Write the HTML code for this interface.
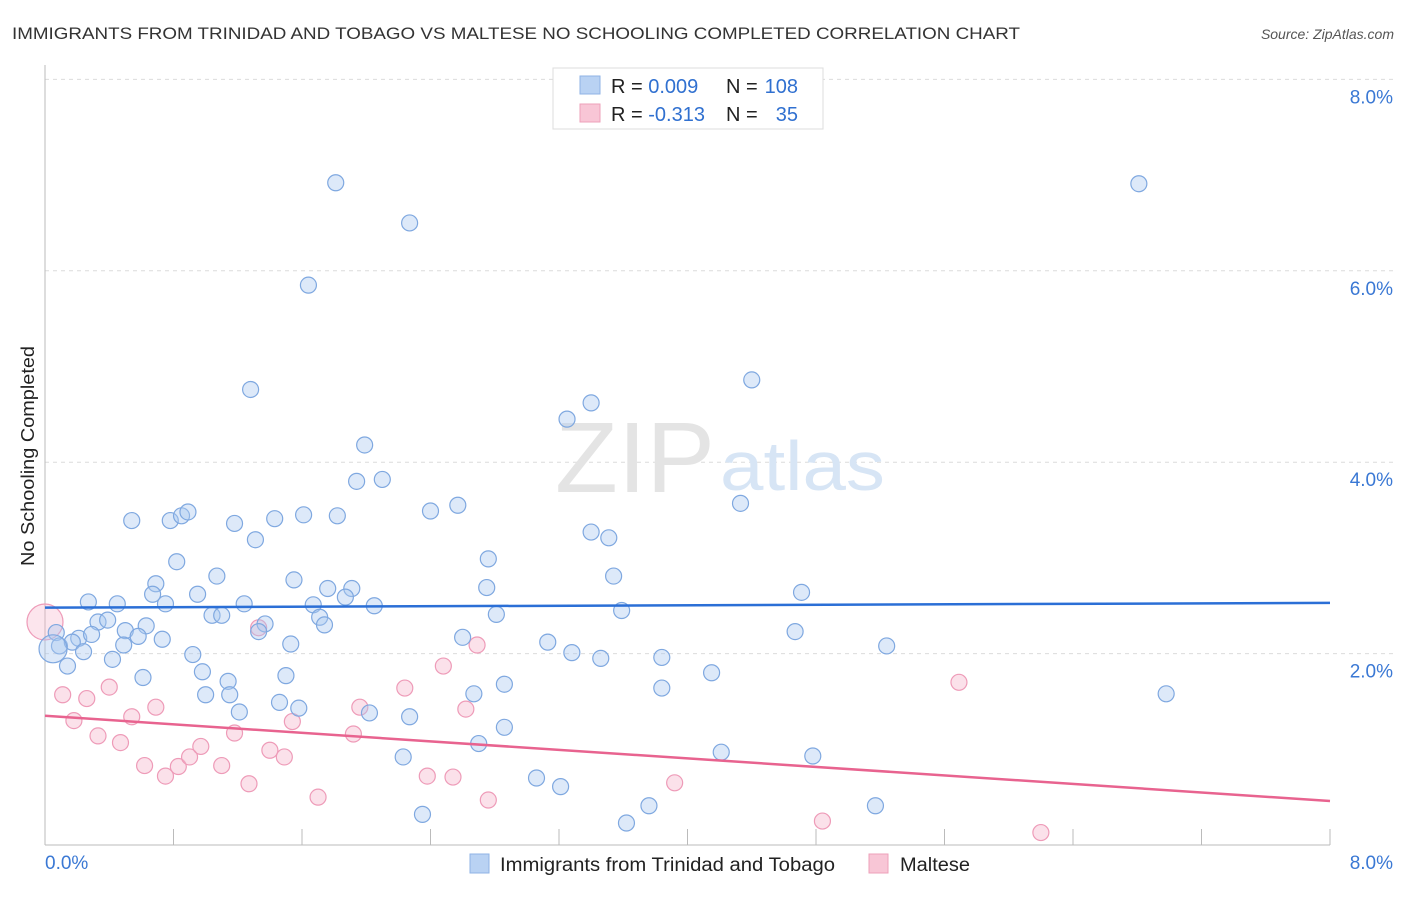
<!DOCTYPE html>
<html><head><meta charset="utf-8"><style>
body{margin:0;background:#fff;font-family:"Liberation Sans",sans-serif}
svg text{font-family:"Liberation Sans",sans-serif}
</style></head><body>
<svg id="c" width="1406" height="892">
<text x="12" y="39" font-size="17" fill="#333" textLength="1008" lengthAdjust="spacingAndGlyphs">IMMIGRANTS FROM TRINIDAD AND TOBAGO VS MALTESE NO SCHOOLING COMPLETED CORRELATION CHART</text>
<text x="1394" y="39" font-size="14" font-style="italic" fill="#555" text-anchor="end">Source: ZipAtlas.com</text>
<text x="34" y="456" font-size="18" fill="#222" text-anchor="middle" textLength="220" lengthAdjust="spacingAndGlyphs" transform="rotate(-90 34 456)">No Schooling Completed</text>
<g id="grid"></g>
<text x="715" y="492" font-size="100" font-family="Liberation Serif" fill="#e4e4e4" text-anchor="end" textLength="160" lengthAdjust="spacingAndGlyphs">ZIP</text>
<text x="720" y="490" font-size="70" fill="#d7e5f5" textLength="165" lengthAdjust="spacingAndGlyphs">atlas</text>
<g id="marks"></g>
<g>
<rect x="553" y="68" width="270" height="61" fill="#fff" stroke="#ddd"/>
<rect x="580" y="76" width="20" height="18" fill="#b9d2f3" stroke="#8fb3e6"/>
<rect x="580" y="104" width="20" height="18" fill="#f8c6d6" stroke="#eea0ba"/>
<text x="611" y="93" font-size="20" fill="#222">R = <tspan fill="#3070d0">0.009</tspan></text>
<text x="726" y="93" font-size="20" fill="#222">N = </text>
<text x="798" y="93" font-size="20" fill="#3070d0" text-anchor="end">108</text>
<text x="611" y="121" font-size="20" fill="#222">R = <tspan fill="#3070d0">-0.313</tspan></text>
<text x="726" y="121" font-size="20" fill="#222">N = </text>
<text x="798" y="121" font-size="20" fill="#3070d0" text-anchor="end">35</text>
</g>
<g>
<rect x="470" y="854" width="19" height="19" fill="#b9d2f3" stroke="#8fb3e6"/>
<text x="500" y="871" font-size="19" fill="#222" textLength="335" lengthAdjust="spacingAndGlyphs">Immigrants from Trinidad and Tobago</text>
<rect x="869" y="854" width="19" height="19" fill="#f8c6d6" stroke="#eea0ba"/>
<text x="900" y="871" font-size="19" fill="#222" textLength="70" lengthAdjust="spacingAndGlyphs">Maltese</text>
</g>
</svg>
<script>
const blueX=[1.81,6.81,2.27,1.64,1.28,4.40,3.40,3.25,1.99,1.94,2.10,4.33,2.40,2.57,0.54,0.78,0.85,0.89,1.18,1.43,1.61,1.82,1.31,3.40,3.51,0.82,2.76,1.07,1.55,3.54,0.69,0.67,0.95,1.76,1.91,1.87,2.75,4.71,0.27,0.45,0.75,1.24,1.67,2.05,0.33,0.39,0.63,1.04,1.10,1.71,1.74,1.37,2.81,3.59,0.50,0.58,0.73,1.33,4.67,0.07,0.21,0.29,0.09,0.17,0.49,1.53,2.60,3.13,3.28,3.46,3.84,5.24,0.24,0.42,0.92,0.98,1.50,4.15,0.14,0.61,1.14,1.00,1.15,2.86,2.67,3.84,6.98,1.46,1.58,1.21,2.02,2.27,2.86,2.70,2.23,4.21,4.78,3.06,3.21,3.76,5.17,2.35,3.62];
const blueY=[6.92,6.91,6.50,5.85,4.76,4.86,4.62,4.45,4.18,3.80,3.82,3.57,3.49,3.55,3.39,3.39,3.44,3.48,3.36,3.41,3.45,3.44,3.19,3.27,3.21,2.96,2.99,2.81,2.77,2.81,2.73,2.62,2.62,2.68,2.68,2.59,2.69,2.64,2.54,2.52,2.52,2.52,2.51,2.50,2.33,2.35,2.29,2.40,2.40,2.38,2.30,2.31,2.41,2.45,2.24,2.18,2.15,2.23,2.23,2.22,2.16,2.20,2.08,2.12,2.09,2.10,2.17,2.12,2.01,1.95,1.96,2.08,2.02,1.94,1.99,1.81,1.77,1.80,1.87,1.75,1.71,1.57,1.57,1.68,1.58,1.64,1.58,1.49,1.43,1.39,1.38,1.34,1.23,1.06,0.92,0.97,0.93,0.70,0.61,0.41,0.41,0.32,0.23];
const pinkX=[0.11,0.26,0.40,0.18,0.54,0.69,0.33,0.47,0.62,0.75,0.83,0.90,0.97,1.10,1.18,1.27,1.33,1.40,1.54,1.49,1.70,1.92,1.96,2.24,2.48,2.69,2.62,2.38,2.54,2.76,3.92,4.84,5.69,6.20];
const pinkY=[1.57,1.53,1.65,1.30,1.34,1.44,1.14,1.07,0.83,0.72,0.82,0.92,1.03,0.83,1.17,0.64,2.27,0.99,1.29,0.92,0.50,1.16,1.44,1.64,1.87,2.09,1.42,0.72,0.71,0.47,0.65,0.25,1.70,0.13];
const bigBlue=[0.05,2.05], bigPink=[0.00,2.33];
const yTicks=[2,4,6,8], yTickLabels=["2.0%","4.0%","6.0%","8.0%"];
const blueTrend=[2.48,2.53], pinkTrend=[1.35,0.46];
const X0=45,X1=1330,Y0=845,PY=95.7;
const sx=v=>X0+(v/8)*(X1-X0), sy=v=>Y0-v*PY;
const NS="http://www.w3.org/2000/svg";
function mk(t,a,p){const e=document.createElementNS(NS,t);for(const k in a)e.setAttribute(k,a[k]);p.appendChild(e);return e;}
const g=document.getElementById('grid'), m=document.getElementById('marks');
yTicks.forEach((v,i)=>{
 const l=mk('line',{x1:X0,x2:1394,y1:sy(v),y2:sy(v),stroke:'#dcdcdc','stroke-dasharray':'4,4'},g);
 
 
 const t=mk('text',{x:1393,y:sy(v)+24,'font-size':19,fill:'#3a78d4','text-anchor':'end'},g);
 t.textContent=yTickLabels[i];
 
 
});
const ax=mk('line',{x1:X0,x2:X0,y1:65,y2:Y0,stroke:'#bbb'},g);


const bx=mk('line',{x1:X0,x2:X1,y1:Y0,y2:Y0,stroke:'#bbb'},g);


for(let i=0;i<=10;i++){const x=sx(i*0.8);const tk=mk('line',{x1:x,x2:x,y1:Y0,y2:Y0-(i==0?0:16),stroke:'#bbb'},g);
 
 }
const xl0=mk('text',{x:45,y:869,'font-size':19,fill:'#3a78d4'},g);xl0.textContent='0.0%';


const xl1=mk('text',{x:1393,y:869,'font-size':19,fill:'#3a78d4','text-anchor':'end'},g);xl1.textContent='8.0%';


function dot(x,y,r,fill,stroke,name){const c=mk('circle',{cx:sx(x),cy:sy(y),r:r,fill:fill,stroke:stroke,'stroke-width':1.2},m);
 
 }
pinkX.forEach((x,i)=>dot(x,pinkY[i],8,'rgba(246,180,203,0.4)','#ee9bb8','maltese-point'));
dot(bigPink[0],bigPink[1],18,'rgba(246,180,203,0.35)','#ee9bb8','maltese-point');
blueX.forEach((x,i)=>dot(x,blueY[i],8,'rgba(170,200,240,0.4)','#7fa8e0','trinidad-point'));
dot(bigBlue[0],bigBlue[1],14,'rgba(170,200,240,0.4)','#7fa8e0','trinidad-point');
const bt=mk('line',{x1:sx(0),x2:sx(8),y1:sy(blueTrend[0]),y2:sy(blueTrend[1]),stroke:'#2b6fd6','stroke-width':2.5},m);


const pt=mk('line',{x1:sx(0),x2:sx(8),y1:sy(pinkTrend[0]),y2:sy(pinkTrend[1]),stroke:'#e8638f','stroke-width':2.5},m);


</script>
</body></html>
